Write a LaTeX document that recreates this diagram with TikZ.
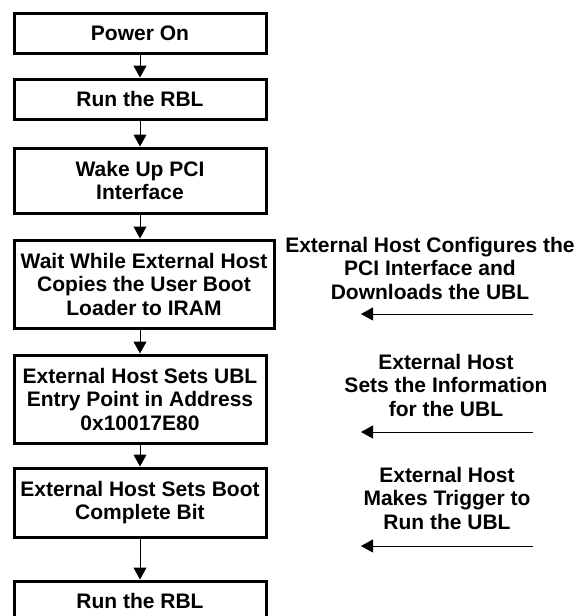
\documentclass[tikz,border=0pt]{standalone}
\usepackage{fontspec}
\setmainfont{Liberation Sans}
\usetikzlibrary{arrows.meta}

\begin{document}
\begin{tikzpicture}[x = 1pt, y = -1pt,
	stepbox/.style = {draw, line width = 3pt, minimum width = 252pt, inner sep = 0pt, align = center, font = \fontsize{21}{23.5}\selectfont\bfseries},
	note/.style = {align = center, inner sep = 0pt, font = \fontsize{21}{23.5}\selectfont\bfseries},
	flow/.style = {-{Triangle[width = 13pt, length = 12pt]}, line width = 1pt}]
	\useasboundingbox (0,0) rectangle (577,616);
	
	\node[stepbox, minimum height = 40pt] (PON) at (140,33) {Power On};
	\node[stepbox, minimum height = 40pt] (RBL) at (140,99) {Run the RBL};
	\node[stepbox, minimum height = 65pt] (PCI) at (140,180.5) {Wake Up PCI\\Interface};
	\node[stepbox, minimum height = 88pt, minimum width = 260pt] (WAIT) at (144,284) {Wait While External Host\\Copies the User Boot\\Loader to IRAM};
	\node[stepbox, minimum height = 88pt] (ENTRY) at (140,399) {External Host Sets UBL\\Entry Point in Address\\0x10017E80};
	\node[stepbox, minimum height = 69pt] (BOOT) at (140,502.5) {External Host Sets Boot\\Complete Bit};
	\node[stepbox, minimum height = 40pt] (RBL2) at (140,601) {Run the RBL};
	
	\draw[flow] (PON) -- (RBL);
	\draw[flow] (RBL) -- (PCI);
	\draw[flow] (PCI.south) -- (PCI.south |- WAIT.north);
	\draw[flow] (PCI.south |- WAIT.south) -- (ENTRY.north);
	\draw[flow] (ENTRY) -- (BOOT);
	\draw[flow] (BOOT) -- (RBL2);
	
	% host side
	\node[note] (H1) at (430,268) {External Host Configures the\\PCI Interface and\\Downloads the UBL};
	\node[note] (H2) at (446,385) {External Host\\Sets the Information\\for the UBL};
	\node[note] (H3) at (447,498) {External Host\\Makes Trigger to\\Run the UBL};
	
	\coordinate (S1) at (533,314); \coordinate (E1) at (361,314);
	\coordinate (S2) at (533,432); \coordinate (E2) at (361,432);
	\coordinate (S3) at (533,546); \coordinate (E3) at (361,546);
	\draw[flow] (S1) -- (E1);
	\draw[flow] (S2) -- (E2);
	\draw[flow] (S3) -- (E3);
\end{tikzpicture}
\end{document}
